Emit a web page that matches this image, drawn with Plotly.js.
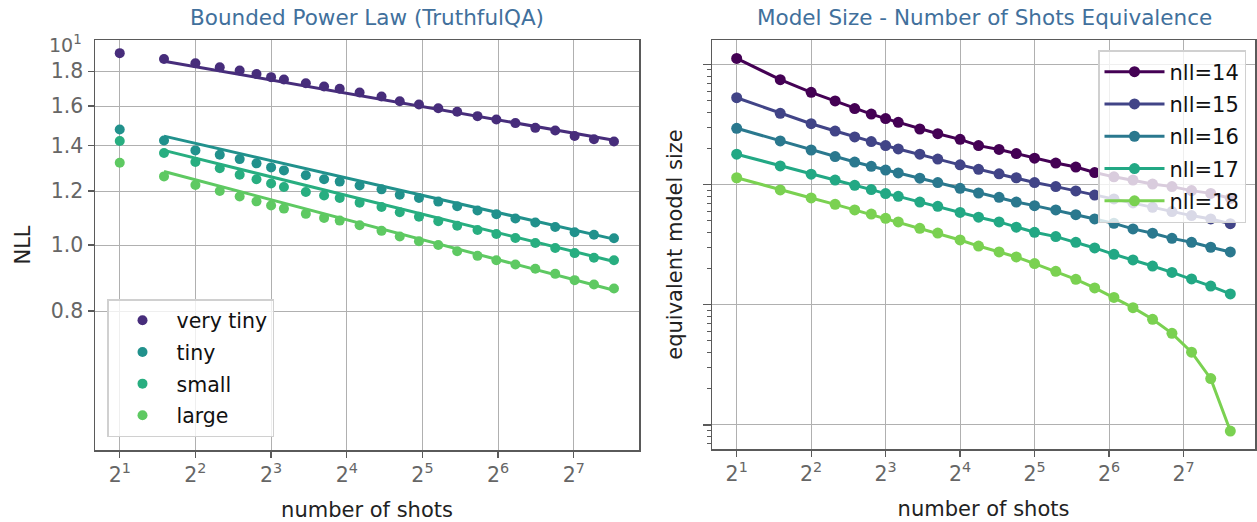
<!DOCTYPE html>
<html>
<head>
<meta charset="utf-8">
<script src="https://cdn.plot.ly/plotly-3.0.1.min.js"></script>
<style>
  html, body { margin: 0; padding: 0; background: #fff; }
  #chart { width: 1257px; height: 522px; }
</style>
</head>
<body>
<div id="chart"></div>
<script>
// ---------- Data: left panel (Bounded Power Law, TruthfulQA) ----------
const shotsLeft = [2, 3, 4, 5, 6, 7, 8, 9, 11, 13, 15, 18, 22, 26, 31, 37, 44, 53, 63, 75, 90, 108, 129, 154, 185];
const nllVeryTiny = [1.913, 1.876, 1.849, 1.824, 1.804, 1.783, 1.764, 1.750, 1.728, 1.709, 1.696, 1.675, 1.652, 1.626, 1.608, 1.588, 1.569, 1.546, 1.529, 1.510, 1.486, 1.473, 1.446, 1.430, 1.419];
const nllTiny = [1.478, 1.424, 1.377, 1.357, 1.337, 1.318, 1.300, 1.287, 1.266, 1.249, 1.239, 1.223, 1.207, 1.185, 1.172, 1.158, 1.140, 1.124, 1.110, 1.094, 1.079, 1.063, 1.044, 1.035, 1.023];
const nllSmall = [1.421, 1.365, 1.324, 1.296, 1.268, 1.249, 1.231, 1.217, 1.196, 1.182, 1.172, 1.154, 1.137, 1.117, 1.100, 1.084, 1.067, 1.052, 1.038, 1.024, 1.007, 0.990, 0.973, 0.958, 0.950];
const nllLarge = [1.321, 1.261, 1.225, 1.200, 1.178, 1.159, 1.143, 1.131, 1.111, 1.096, 1.086, 1.069, 1.049, 1.029, 1.013, 1.000, 0.979, 0.964, 0.950, 0.936, 0.923, 0.907, 0.888, 0.875, 0.863];
// fitted power-law lines (end points)
const fitShots = [3, 185];
const fitVeryTiny = [1.862, 1.425];
const fitTiny = [1.445, 1.020];
const fitSmall = [1.377, 0.946];
const fitLarge = [1.282, 0.858];
const leftNames = ["very tiny", "tiny", "small", "large"];

// ---------- Data: right panel (Model Size - Number of Shots Equivalence) ----------
const shotsRight = [2, 3, 4, 5, 6, 7, 8, 9, 11, 13, 16, 19, 23, 27, 32, 39, 47, 56, 67, 80, 96, 115, 138, 165, 198];
const size14 = [1122, 746, 586, 497, 429, 386, 354, 330, 290, 265, 238, 211, 196, 181, 166, 151, 140, 126, 116, 109, 101, 96.2, 89.1, 84.5, 76.9];
const size15 = [528, 392, 321, 279, 249, 228, 211, 198, 179, 163, 146, 134, 123, 114, 104, 96.2, 88.5, 81.8, 75.9, 70.3, 64.7, 59.6, 55.2, 51.8, 47.3];
const size16 = [294, 231, 194, 171, 154, 142, 132, 125, 113, 104, 93.1, 85.1, 78.3, 71.6, 66.8, 61.5, 56.2, 51.8, 47.6, 42.8, 39.4, 35.7, 33.1, 30.1, 27.5];
const size17 = [179, 143, 122, 109, 98.6, 90.8, 84.1, 79.8, 71.6, 65.9, 58.7, 53.5, 48.9, 44.2, 40.1, 36.9, 33.1, 29.7, 26.3, 23.6, 21.0, 18.6, 16.4, 14.3, 12.3];
const size18 = [114, 90.2, 77.4, 68.5, 61.5, 56.9, 52.4, 48.9, 43.3, 39.5, 34.6, 30.8, 27.5, 25.0, 22.0, 19.0, 16.3, 13.8, 11.5, 9.46, 7.57, 5.79, 4.03, 2.43, 0.89];
const rightNames = ["nll=14", "nll=15", "nll=16", "nll=17", "nll=18"];

// ---------- Tick labels ----------
const xTickVals = [2, 4, 8, 16, 32, 64, 128];
const xTickText = ["2<sup>1</sup>", "2<sup>2</sup>", "2<sup>3</sup>", "2<sup>4</sup>", "2<sup>5</sup>", "2<sup>6</sup>", "2<sup>7</sup>"];
const nllTickVals = [0.8, 1.0, 1.2, 1.4, 1.6, 1.8];
const nllTickText = ["0.8", "1.0", "1.2", "1.4", "1.6", "1.8"];

// ---------- Styling ----------
const FONT = "DejaVu Sans, sans-serif";
const leftColors = ["#472d7b", "#21918c", "#28ae80", "#5ec962"];
const rightColors = ["#440154", "#414487", "#2a788e", "#22a884", "#7ad151"];
const GRID = "#b0b0b0";
const FRAME = "#5a5a5a";
const TICKFONT = {family: FONT, size: 20.5, color: "#666666"};
const TITLEFONT = {family: FONT, size: 21, color: "#222222"};

const traces = [];
const leftSeries = [nllVeryTiny, nllTiny, nllSmall, nllLarge];
const leftFits = [fitVeryTiny, fitTiny, fitSmall, fitLarge];
leftSeries.forEach((ys, i) => {
  traces.push({
    x: shotsLeft, y: ys, type: "scatter", mode: "markers", name: leftNames[i],
    marker: {color: leftColors[i], size: 10},
    xaxis: "x", yaxis: "y", legend: "legend", legendgroup: "L" + i
  });
});
leftFits.forEach((ys, i) => {
  traces.push({
    x: fitShots, y: ys, type: "scatter", mode: "lines", showlegend: false,
    line: {color: leftColors[i], width: 3},
    xaxis: "x", yaxis: "y", hoverinfo: "skip"
  });
});
const rightSeries = [size14, size15, size16, size17, size18];
rightSeries.forEach((ys, i) => {
  traces.push({
    x: shotsRight, y: ys, type: "scatter", mode: "lines+markers", name: rightNames[i],
    line: {color: rightColors[i], width: 3},
    marker: {color: rightColors[i], size: 11},
    xaxis: "x2", yaxis: "y2", legend: "legend2", legendgroup: "R" + i
  });
});

// minor tick positions for the right log axis
const minorVals = [];
for (let e = -1; e <= 3; e++) {
  for (let m = 2; m <= 9; m++) minorVals.push(m * Math.pow(10, e));
}

const W = 1257, H = 522;
const axBase = {
  type: "log", showline: true, mirror: true, linecolor: FRAME, linewidth: 1.5,
  showgrid: true, gridcolor: GRID, gridwidth: 1, ticks: "outside", tickcolor: FRAME,
  ticklen: 6, tickwidth: 1.3, zeroline: false, tickfont: TICKFONT, automargin: false
};

const layout = {
  width: W, height: H,
  margin: {l: 0, r: 0, t: 0, b: 0},
  paper_bgcolor: "#ffffff", plot_bgcolor: "#ffffff",
  font: {family: FONT},
  showlegend: true,
  xaxis: Object.assign({}, axBase, {
    domain: [95 / W, 639 / W], range: [0.2026, 2.3667], anchor: "y",
    tickmode: "array", tickvals: xTickVals, ticktext: xTickText,
    title: {text: "number of shots", font: TITLEFONT, standoff: 16}
  }),
  yaxis: Object.assign({}, axBase, {
    domain: [72 / H, 482 / H], range: [Math.log10(0.5), Math.log10(2)], anchor: "x",
    tickmode: "array", tickvals: nllTickVals, ticktext: nllTickText,
    title: {text: "NLL", font: TITLEFONT, standoff: 14}
  }),
  xaxis2: Object.assign({}, axBase, {
    domain: [712 / W, 1255 / W], range: [0.2012, 2.3964], anchor: "y2",
    tickmode: "array", tickvals: xTickVals, ticktext: xTickText,
    title: {text: "number of shots", font: TITLEFONT, standoff: 16}
  }),
  yaxis2: Object.assign({}, axBase, {
    domain: [73 / H, 482 / H], range: [-0.2, 3.203], anchor: "x2",
    tickmode: "array", tickvals: [1, 10, 100, 1000], showticklabels: false, ticklen: 8,
    minor: {tickmode: "array", tickvals: minorVals, ticks: "outside", ticklen: 4,
            tickcolor: FRAME, tickwidth: 1, showgrid: false},
    title: {text: "equivalent model size", font: TITLEFONT, standoff: 14}
  }),
  legend: {
    x: 107 / W, y: 1 - 299 / H, xanchor: "left", yanchor: "top",
    bgcolor: "rgba(255,255,255,0.8)", bordercolor: "#d0d0d0", borderwidth: 1.5,
    font: {family: FONT, size: 20.5, color: "#111111"},
    itemwidth: 58, traceorder: "grouped", tracegroupgap: 2
  },
  legend2: {
    x: 1098 / W, y: 1 - 50 / H, xanchor: "left", yanchor: "top",
    bgcolor: "rgba(255,255,255,0.8)", bordercolor: "#d0d0d0", borderwidth: 1.5,
    font: {family: FONT, size: 21, color: "#111111"},
    itemwidth: 60, traceorder: "grouped", tracegroupgap: 2
  },
  annotations: [
    {text: "Bounded Power Law (TruthfulQA)", xref: "paper", yref: "paper",
     x: 367 / W, y: 1 - 18 / H, xanchor: "center", yanchor: "middle", showarrow: false,
     font: {family: FONT, size: 21.5, color: "#41709c"}},
    {text: "Model Size - Number of Shots Equivalence", xref: "paper", yref: "paper",
     x: 984 / W, y: 1 - 18 / H, xanchor: "center", yanchor: "middle", showarrow: false,
     font: {family: FONT, size: 21.5, color: "#41709c"}},
    {text: "10<sup>1</sup>", xref: "paper", yref: "y",
     x: 84 / W, y: Math.log10(1.975), xanchor: "right", yanchor: "middle", showarrow: false,
     font: {family: FONT, size: 19, color: "#666666"}}
  ]
};

Plotly.newPlot("chart", traces, layout, {staticPlot: true, displayModeBar: false});
</script>
</body>
</html>
